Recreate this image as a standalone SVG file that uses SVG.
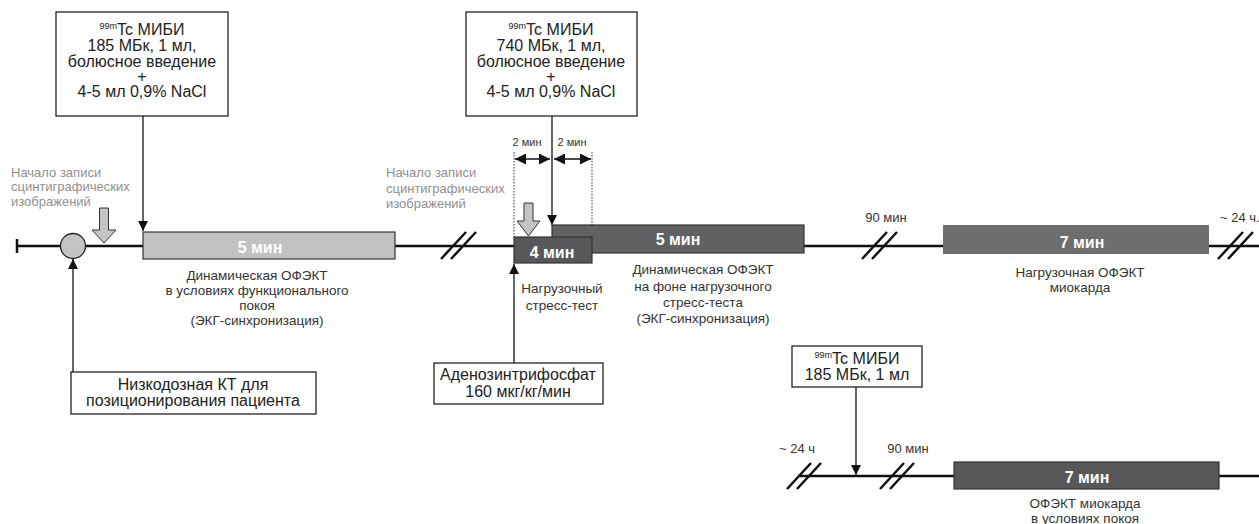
<svg xmlns="http://www.w3.org/2000/svg" width="1259" height="524" viewBox="0 0 1259 524">
<defs>
<marker id="ah" viewBox="0 0 10 10" refX="10" refY="5" markerWidth="10" markerHeight="10" markerUnits="userSpaceOnUse" orient="auto"><path d="M0,0 L10,5 L0,10 Z" fill="#111"/></marker>
<marker id="dh" viewBox="0 0 10 10" refX="10" refY="5" markerWidth="11" markerHeight="11" markerUnits="userSpaceOnUse" orient="auto-start-reverse"><path d="M0,0 L10,5 L0,10 Z" fill="#111"/></marker>
</defs>
<style>
text{font-family:"Liberation Sans",Arial,sans-serif;fill:#222}
.box{fill:#fff;stroke:#222;stroke-width:1.3}
.bt{font-size:16px;text-anchor:middle}
.sup{font-size:9px}
.lbl{font-size:13.5px;text-anchor:middle;fill:#333}
.gr{font-size:13px;fill:#8f8f8f}
.sm{font-size:13px;fill:#333}
.sm2{font-size:11px;fill:#333}
.bar{stroke:#333;stroke-width:1.2}
.bl{font-size:16px;font-weight:bold;fill:#fff;text-anchor:middle}
.ln{stroke:#111;stroke-width:1.3;fill:none}
.tl{stroke:#111;stroke-width:2.5;fill:none}
.sl{stroke:#111;stroke-width:2.5;fill:none}
.dot{stroke:#333;stroke-width:1;stroke-dasharray:1.5,1.5;fill:none}
.garr{fill:#c4c4c4;stroke:#333;stroke-width:1}
</style>

<g id="timelines">
<line class="tl" x1="17" y1="246" x2="1259" y2="246"/>
<line class="tl" x1="17" y1="239" x2="17" y2="253"/>
<line class="tl" x1="798" y1="476" x2="1259" y2="476"/>
<path class="sl" d="M441,259 L466,232 M451,259 L476,232"/>
<path class="sl" d="M862,259 L887,232 M872,259 L897,232"/>
<path class="sl" d="M1218,259 L1243,232 M1228,259 L1253,232"/>
<path class="sl" d="M787,489 L811,463 M797,489 L821,463"/>
<path class="sl" d="M880,489 L904,463 M890,489 L914,463"/>
</g>

<g id="connectors">
<line class="ln" x1="143" y1="116" x2="143" y2="231" marker-end="url(#ah)"/>
<line class="ln" x1="73" y1="372" x2="73" y2="259" marker-end="url(#ah)"/>
<line class="ln" x1="552" y1="116" x2="552" y2="225" marker-end="url(#ah)"/>
<line class="ln" x1="514" y1="363" x2="514" y2="264" marker-end="url(#ah)"/>
<line class="ln" x1="856" y1="387" x2="856" y2="475" marker-end="url(#ah)"/>
<line class="dot" x1="514" y1="152" x2="514" y2="237"/>
<line class="dot" x1="592" y1="152" x2="592" y2="225"/>
<line class="ln" x1="515" y1="159" x2="550" y2="159" stroke-width="2" marker-start="url(#dh)" marker-end="url(#dh)"/>
<line class="ln" x1="554" y1="159" x2="591" y2="159" stroke-width="2" marker-start="url(#dh)" marker-end="url(#dh)"/>
<text class="sm2" x="527" y="146" text-anchor="middle">2 мин</text>
<text class="sm2" x="572" y="146" text-anchor="middle">2 мин</text>
</g>

<g id="circle-start">
<circle cx="73" cy="246" r="12.5" fill="#c4c4c4" stroke="#222" stroke-width="1.3"/>
</g>

<g id="rec-start-1">
<text class="gr" x="11" y="176.5">Начало записи</text>
<text class="gr" x="11" y="190.5">сцинтиграфических</text>
<text class="gr" x="11" y="205.5">изображений</text>
<path class="garr" d="M99.5,208 H108.5 V230 H116 L104,243 L92,230 H99.5 Z"/>
</g>

<g id="rec-start-2">
<text class="gr" x="386" y="176.5">Начало записи</text>
<text class="gr" x="386" y="192.5">сцинтиграфических</text>
<text class="gr" x="386" y="207.5">изображений</text>
<path class="garr" d="M524,203 H533 V221 H540 L528.5,236 L517,221 H524 Z"/>
</g>

<g id="inj-1">
<rect class="box" x="56" y="12" width="172" height="104"/>
<text class="bt" x="142" y="35"><tspan class="sup" dy="-6">99m</tspan><tspan dy="6">Tc МИБИ</tspan></text>
<text class="bt" x="142" y="51">185 МБк, 1 мл,</text>
<text class="bt" x="142" y="66.5">болюсное введение</text>
<text class="bt" x="142" y="82">+</text>
<text class="bt" x="142" y="97">4-5 мл 0,9% NaCl</text>
</g>

<g id="inj-2">
<rect class="box" x="466" y="12" width="171" height="104"/>
<text class="bt" x="551" y="35"><tspan class="sup" dy="-6">99m</tspan><tspan dy="6">Tc МИБИ</tspan></text>
<text class="bt" x="551" y="51">740 МБк, 1 мл,</text>
<text class="bt" x="551" y="66.5">болюсное введение</text>
<text class="bt" x="551" y="82">+</text>
<text class="bt" x="551" y="97">4-5 мл 0,9% NaCl</text>
</g>

<g id="ct">
<rect class="box" x="71" y="372" width="245" height="42"/>
<text class="bt" x="193" y="389.5">Низкодозная КТ для</text>
<text class="bt" x="193" y="405.5">позиционирования пациента</text>
</g>

<g id="atp">
<rect class="box" x="434" y="363" width="169" height="41"/>
<text class="bt" x="518" y="379.5">Аденозинтрифосфат</text>
<text class="bt" x="518" y="396.5">160 мкг/кг/мин</text>
</g>

<g id="inj-3">
<rect class="box" x="792" y="346" width="130" height="41"/>
<text class="bt" x="857" y="363.5"><tspan class="sup" dy="-6">99m</tspan><tspan dy="6">Tc МИБИ</tspan></text>
<text class="bt" x="857" y="379.5">185 МБк, 1 мл</text>
</g>

<g id="rest-dyn">
<rect class="bar" x="143" y="232" width="252" height="27" fill="#c2c2c2"/>
<text class="bl" x="260" y="252.5">5 мин</text>
<text class="lbl" x="257" y="280">Динамическая ОФЭКТ</text>
<text class="lbl" x="257" y="295">в условиях функционального</text>
<text class="lbl" x="257" y="310">покоя</text>
<text class="lbl" x="257" y="325">(ЭКГ-синхронизация)</text>
</g>

<g id="stress-dyn">
<rect class="bar" x="552" y="225" width="252" height="28" fill="#616163"/>
<text class="bl" x="678" y="244.5">5 мин</text>
<text class="lbl" x="703" y="274">Динамическая ОФЭКТ</text>
<text class="lbl" x="703" y="291">на фоне нагрузочного</text>
<text class="lbl" x="703" y="307">стресс-теста</text>
<text class="lbl" x="703" y="323">(ЭКГ-синхронизация)</text>
</g>

<g id="stress-test">
<rect class="bar" x="514" y="237" width="78" height="26" fill="#58585a"/>
<text class="bl" x="552" y="257.5">4 мин</text>
<text class="lbl" x="562" y="293">Нагрузочный</text>
<text class="lbl" x="562" y="310">стресс-тест</text>
</g>

<g id="stress-spect">
<text class="sm" x="886" y="221.5" text-anchor="middle">90 мин</text>
<rect x="943" y="225" width="266" height="29" fill="#6d6e70"/>
<text class="bl" x="1082" y="247.5">7 мин</text>
<text class="lbl" x="1080" y="277">Нагрузочная ОФЭКТ</text>
<text class="lbl" x="1080" y="292">миокарда</text>
<text class="sm" x="1220" y="221.5">~ 24 ч.</text>
</g>

<g id="rest-spect">
<text class="sm" x="797" y="452.5" text-anchor="middle">~ 24 ч</text>
<text class="sm" x="908" y="452.5" text-anchor="middle">90 мин</text>
<rect class="bar" x="954" y="462" width="265" height="27" fill="#58585a"/>
<text class="bl" x="1087" y="482.5">7 мин</text>
<text class="lbl" x="1085" y="508">ОФЭКТ миокарда</text>
<text class="lbl" x="1085" y="523">в условиях покоя</text>
</g>
</svg>
